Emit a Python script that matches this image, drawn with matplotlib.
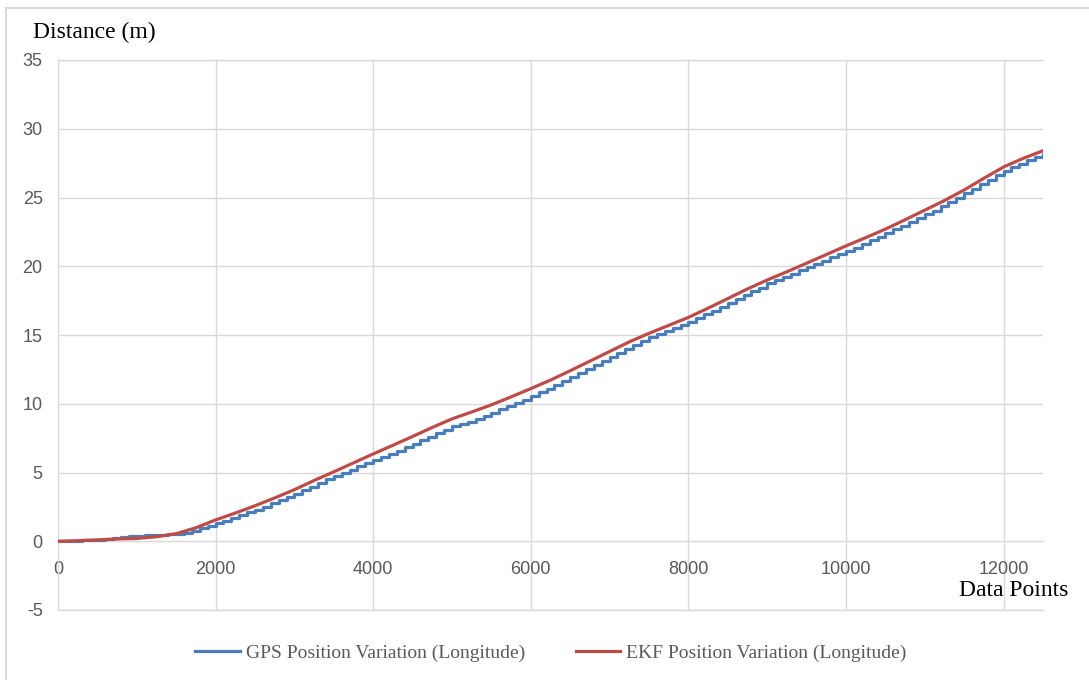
import matplotlib
matplotlib.use('Agg')
import matplotlib.pyplot as plt
from matplotlib.lines import Line2D

plt.rcParams['axes.unicode_minus'] = False

# GPS longitude variation, read every 100 data points (staircase)
gps_x = list(range(0, 12600, 100))
gps_y = [0.00, 0.02, 0.05, 0.07, 0.10, 0.12,
         0.17, 0.24, 0.31, 0.36, 0.40,
         0.42, 0.44, 0.46, 0.50, 0.55,
         0.62, 0.75, 0.95, 1.10, 1.30,
         1.50, 1.70, 1.90, 2.10, 2.30,
         2.52, 2.75, 2.97, 3.20, 3.45,
         3.70, 3.95, 4.22, 4.50, 4.75,
         4.98, 5.20, 5.45, 5.68, 5.90,
         6.12, 6.35, 6.60, 6.85, 7.10,
         7.35, 7.60, 7.85, 8.10, 8.35,
         8.52, 8.70, 8.88, 9.08, 9.35,
         9.60, 9.85, 10.08, 10.30, 10.55,
         10.82, 11.10, 11.38, 11.65, 11.95,
         12.25, 12.55, 12.82, 13.10, 13.40,
         13.70, 13.98, 14.28, 14.55, 14.85,
         15.05, 15.28, 15.50, 15.72, 15.95,
         16.22, 16.50, 16.78, 17.05, 17.35,
         17.62, 17.90, 18.18, 18.45, 18.75,
         18.98, 19.22, 19.47, 19.70, 19.95,
         20.18, 20.40, 20.65, 20.88, 21.10,
         21.35, 21.62, 21.88, 22.15, 22.40,
         22.68, 22.95, 23.25, 23.52, 23.80,
         24.05, 24.35, 24.65, 24.95, 25.30,
         25.62, 25.95, 26.30, 26.62, 26.95,
         27.20, 27.45, 27.70, 27.95, 28.20]

# EKF longitude variation, read every 250 data points
ekf_x = list(range(0, 12750, 250))
ekf_y = [0.00, 0.04, 0.10, 0.17, 0.20, 0.33, 0.55, 0.98, 1.55, 2.05,
         2.58, 3.15, 3.75, 4.42, 5.05, 5.70, 6.35, 6.98, 7.62, 8.28,
         8.90, 9.40, 9.92, 10.50, 11.10, 11.72, 12.40, 13.10, 13.80, 14.50,
         15.12, 15.70, 16.28, 16.95, 17.65, 18.35, 19.00, 19.60, 20.22, 20.85,
         21.48, 22.08, 22.70, 23.38, 24.08, 24.78, 25.55, 26.40, 27.22, 27.85,
         28.40]

x_ticks = [0, 2000, 4000, 6000, 8000, 10000, 12000]
y_ticks = [-5, 0, 5, 10, 15, 20, 25, 30, 35]

grid_col = '#d9d9d9'
text_col = '#595959'

fig = plt.figure(figsize=(10.89, 6.80), dpi=100)
ax = fig.add_axes([58 / 1089, 1 - 610 / 680, (1043 - 58) / 1089, 550 / 680])

ax.plot(gps_x, gps_y, drawstyle='steps-post', color='#4a7ebb', lw=2.3,
        label='GPS Position Variation (Longitude)', zorder=3)
ax.plot(ekf_x, ekf_y, color='#be4b48', lw=2.3,
        label='EKF Position Variation (Longitude)', zorder=4)

ax.set_xlim(0, 12500)
ax.set_ylim(-5, 35)
ax.set_xticks(x_ticks)
ax.set_yticks(y_ticks)
ax.grid(True, color=grid_col, lw=1.0, zorder=0)
ax.set_axisbelow(True)

for s in ['top', 'right']:
    ax.spines[s].set_visible(False)
ax.spines['left'].set_color(grid_col)
ax.spines['bottom'].set_color(grid_col)
ax.spines['bottom'].set_position(('data', 0))
ax.axhline(35, color=grid_col, lw=1.0, clip_on=False, zorder=0)
ax.axhline(-5, color=grid_col, lw=1.0, clip_on=False, zorder=0)

ax.tick_params(axis='both', length=0, labelsize=13, labelcolor=text_col)
ax.tick_params(axis='x', pad=14)
ax.tick_params(axis='y', pad=11)
for lab in ax.get_xticklabels() + ax.get_yticklabels():
    lab.set_family('Liberation Sans')

fig.text(33 / 1089, 1 - 32 / 680, 'Distance (m)', family='Liberation Serif',
         fontsize=17, ha='left', va='center', color='black')
fig.text(1068 / 1089, 1 - 591 / 680, 'Data Points', family='Liberation Serif',
         fontsize=17, ha='right', va='center', color='black')

fig.legend(loc='center', bbox_to_anchor=(551 / 1089, 1 - 653 / 680), ncol=2,
           frameon=False, prop={'family': 'Liberation Serif', 'size': 14},
           labelcolor=text_col, handlelength=2.3, handletextpad=0.3,
           columnspacing=2.6)

# outer chart border (top and left visible)
fig.add_artist(Line2D([6 / 1089, 1], [1 - 8 / 680, 1 - 8 / 680], color='#d9d9d9', lw=1.5))
fig.add_artist(Line2D([6 / 1089, 6 / 1089], [0, 1 - 8 / 680], color='#d9d9d9', lw=1.5))

fig.savefig('out.png', dpi=100)
